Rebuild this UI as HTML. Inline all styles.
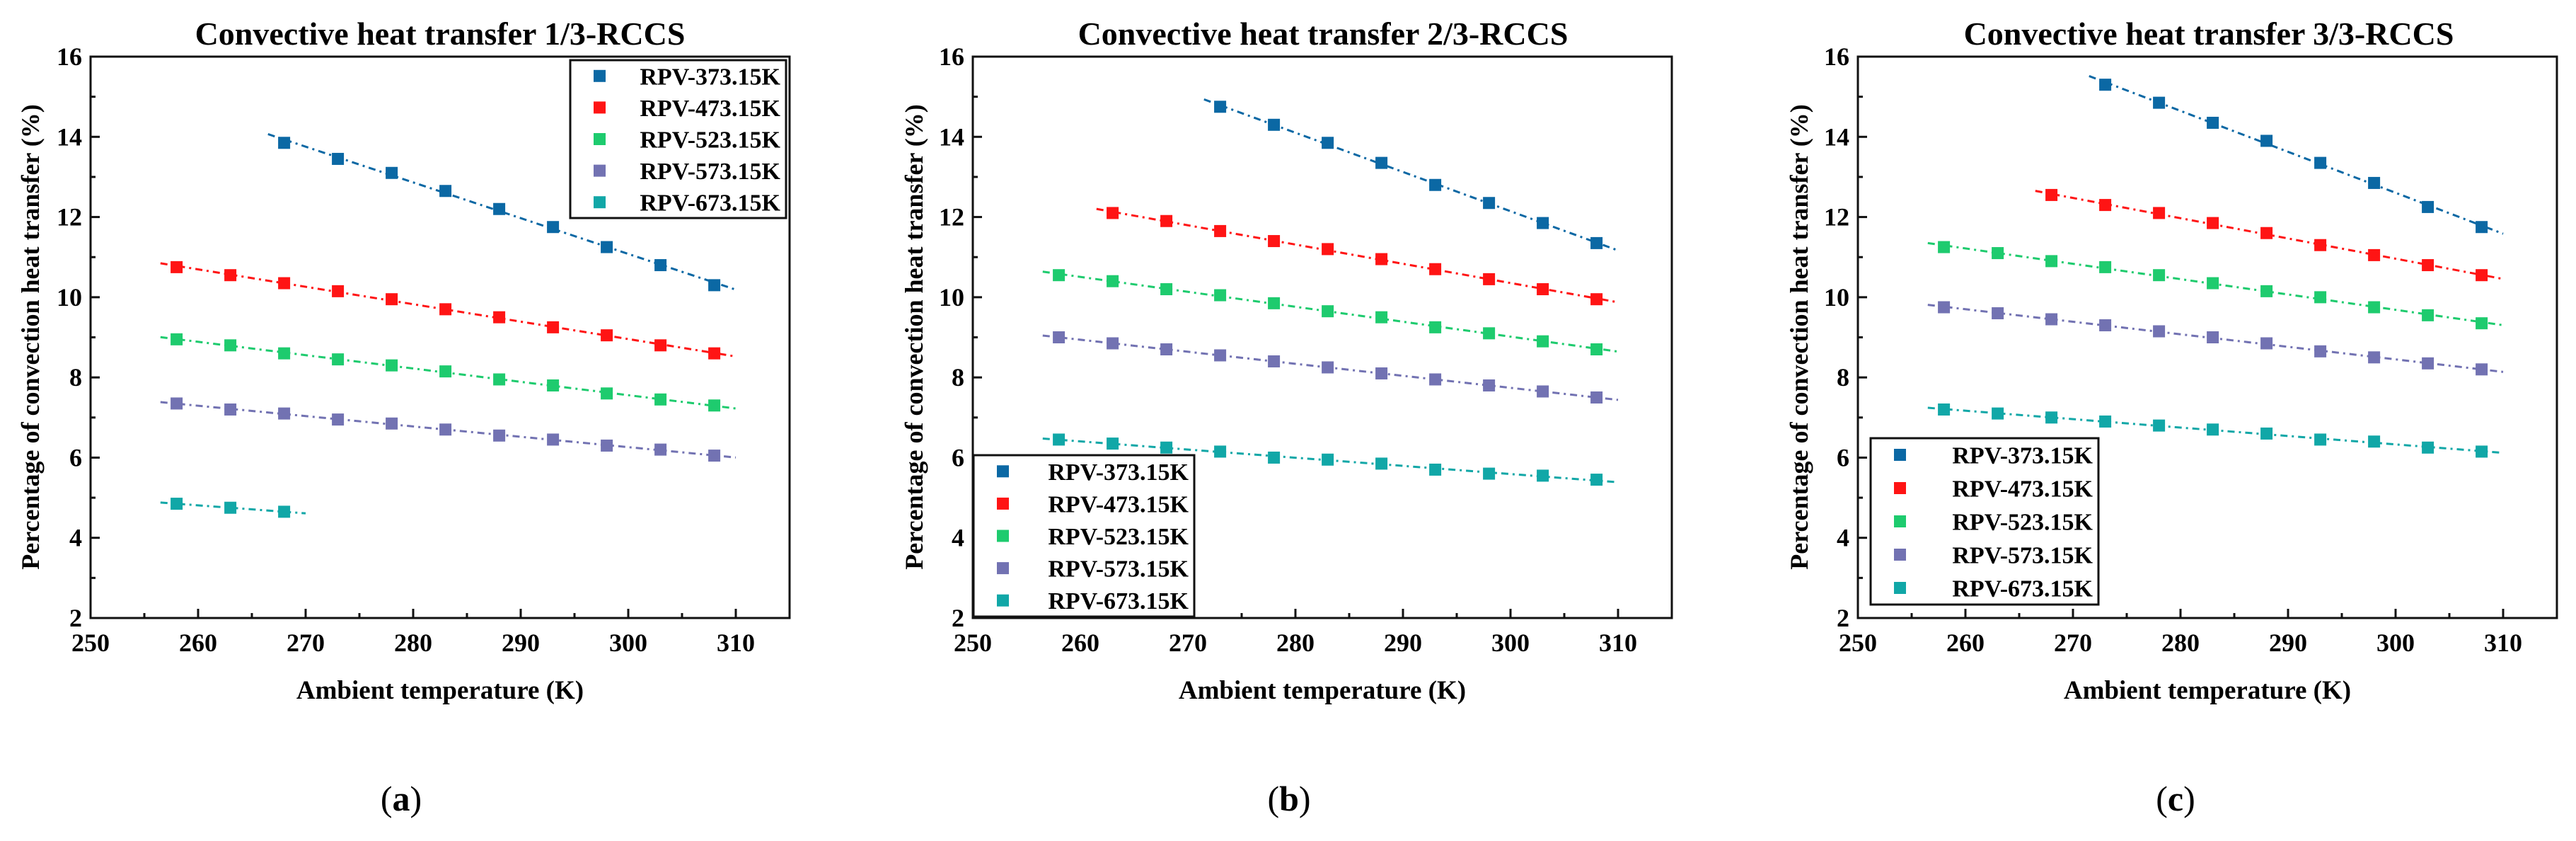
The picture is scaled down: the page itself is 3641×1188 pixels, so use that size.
<!DOCTYPE html>
<html><head><meta charset="utf-8"><style>
html,body{margin:0;padding:0;background:#fff;}
svg{display:block;}
svg text{font-family:"Liberation Serif","DejaVu Serif","Times New Roman",serif;font-weight:bold;}
</style></head><body>
<svg id="fig" width="3641" height="1188" viewBox="0 0 3641 1188" xmlns="http://www.w3.org/2000/svg" font-family="Liberation Serif, serif"></svg>
<script>
const xTicks = [250,260,270,280,290,300,310];
const yTicks = [2,4,6,8,10,12,14,16];
const seriesNames = ["RPV-373.15K","RPV-473.15K","RPV-523.15K","RPV-573.15K","RPV-673.15K"];
const seriesColors = ["#0b68a4","#ff1414","#1ecb6e","#7272b2","#11a7a7"];
const panelTitles = ["Convective heat transfer 1/3-RCCS","Convective heat transfer 2/3-RCCS","Convective heat transfer 3/3-RCCS"];
const panelLetters = ["a","b","c"];
const startA = [268,258,258,258,258];
const startB = [273,263,258,258,258];
const startC = [273,268,258,258,258];
const a373 = [13.85,13.45,13.1,12.65,12.2,11.75,11.25,10.8,10.3];
const a473 = [10.75,10.55,10.35,10.15,9.95,9.7,9.5,9.25,9.05,8.8,8.6];
const a523 = [8.95,8.8,8.6,8.45,8.3,8.15,7.95,7.8,7.6,7.45,7.3];
const a573 = [7.35,7.2,7.1,6.95,6.85,6.7,6.55,6.45,6.3,6.2,6.05];
const a673 = [4.85,4.75,4.65];
const b373 = [14.75,14.3,13.85,13.35,12.8,12.35,11.85,11.35];
const b473 = [12.1,11.9,11.65,11.4,11.2,10.95,10.7,10.45,10.2,9.95];
const b523 = [10.55,10.4,10.2,10.05,9.85,9.65,9.5,9.25,9.1,8.9,8.7];
const b573 = [9.0,8.85,8.7,8.55,8.4,8.25,8.1,7.95,7.8,7.65,7.5];
const b673 = [6.45,6.35,6.25,6.15,6.0,5.95,5.85,5.7,5.6,5.55,5.45];
const c373 = [15.3,14.85,14.35,13.9,13.35,12.85,12.25,11.75];
const c473 = [12.55,12.3,12.1,11.85,11.6,11.3,11.05,10.8,10.55];
const c523 = [11.25,11.1,10.9,10.75,10.55,10.35,10.15,10.0,9.75,9.55,9.35];
const c573 = [9.75,9.6,9.45,9.3,9.15,9.0,8.85,8.65,8.5,8.35,8.2];
const c673 = [7.2,7.1,7.0,6.9,6.8,6.7,6.6,6.45,6.4,6.25,6.15];

const NS = "http://www.w3.org/2000/svg";
const FONT = '"Liberation Serif","DejaVu Serif",serif';
const svg = document.getElementById("fig");
function mk(tag, attrs, parent){
  const e = document.createElementNS(NS, tag);
  for (const k in attrs) e.setAttribute(k, attrs[k]);
  if (tag === "text") { e.style.fontFamily = FONT; if (!attrs["font-weight"]) e.style.fontWeight = "bold"; }
  (parent||svg).appendChild(e);
  return e;
}
const panels = [
  {left:128, unit:15.2, data:[a373,a473,a523,a573,a673], starts:startA, title:622, letter:567, ylab:43,
   legend:{x:806,y:85,w:305,h:223}},
  {left:1375, unit:15.2, data:[b373,b473,b523,b573,b673], starts:startB, title:1870, letter:1822, ylab:1292,
   legend:{x:1376,y:643,w:312,h:228}},
  {left:2626, unit:15.2, data:[c373,c473,c523,c573,c673], starts:startC, title:3122, letter:3075, ylab:2543,
   legend:{x:2644,y:619,w:322,h:235}}
];
const TOP = 80, BOT = 873;
panels.forEach((p, pi) => {
  const g = mk("g", {});
  
  
  const xs = v => p.left + (v - 250) * p.unit;
  const ys = v => BOT - (v - 2) * (BOT - TOP) / 14;
  const right = xs(315);
  const t = mk("text", {x:p.title, y:63, "text-anchor":"middle", "font-size":46}, g);
  t.textContent = panelTitles[pi];
  
  
  const fr = mk("rect", {x:p.left, y:TOP, width:right-p.left, height:BOT-TOP, fill:"none", stroke:"#111", "stroke-width":3}, g);
  
  
  xTicks.forEach(v => {
    const x = xs(v);
    const tk = mk("line", {x1:x, y1:BOT, x2:x, y2:BOT-13, stroke:"#111", "stroke-width":3}, g);
    
    
    const lb = mk("text", {x:x, y:920, "text-anchor":"middle", "font-size":36}, g);
    lb.textContent = v;
    
    
    if (v < 310) {
      const mn = mk("line", {x1:xs(v+5), y1:BOT, x2:xs(v+5), y2:BOT-7, stroke:"#111", "stroke-width":3}, g);
      
      
    }
  });
  yTicks.forEach(v => {
    const y = ys(v);
    const tk = mk("line", {x1:p.left, y1:y, x2:p.left+13, y2:y, stroke:"#111", "stroke-width":3}, g);
    
    
    const lb = mk("text", {x:p.left-12, y:y+12, "text-anchor":"end", "font-size":36}, g);
    lb.textContent = v;
    
    
    if (v < 16) {
      const mn = mk("line", {x1:p.left, y1:ys(v+1), x2:p.left+7, y2:ys(v+1), stroke:"#111", "stroke-width":3}, g);
      
      
    }
  });
  const xt = mk("text", {x:(p.left+right)/2, y:987, "text-anchor":"middle", "font-size":37}, g);
  xt.textContent = "Ambient temperature (K)";
  
  
  const yt = mk("text", {x:0, y:0, "text-anchor":"middle", "font-size":36,
    transform:"translate(" + (p.ylab+12) + ",476) rotate(-90)"}, g);
  yt.textContent = "Percentage of convection heat transfer (%)";
  
  
  const lt = mk("text", {x:p.letter, y:1145, "text-anchor":"middle", "font-size":50, "font-weight":"normal"}, g);
  lt.style.fontWeight = "normal";
  lt.innerHTML = '(<tspan style="font-weight:bold">' + panelLetters[pi] + '</tspan>)';
  
  
  p.data.forEach((vals, si) => {
    const sg = mk("g", {}, g);
    
    
    const x0 = p.starts[si];
    const xv = vals.map((_, i) => x0 + 5 * i);
    const n = vals.length;
    const mx = xv.reduce((a,b)=>a+b,0)/n, my = vals.reduce((a,b)=>a+b,0)/n;
    let sxy=0, sxx=0;
    for (let i=0;i<n;i++){ sxy += (xv[i]-mx)*(vals[i]-my); sxx += (xv[i]-mx)*(xv[i]-mx); }
    const k = sxx ? sxy/sxx : 0;
    const xa = x0 - 1.5, xb = xv[n-1] + 2;
    const ln = mk("line", {x1:xs(xa), y1:ys(my + k*(xa-mx)), x2:xs(xb), y2:ys(my + k*(xb-mx)),
      stroke:seriesColors[si], "stroke-width":3, "stroke-dasharray":"10 6 3 6"}, sg);
    
    
    vals.forEach((v, i) => {
      const r = mk("rect", {x:xs(xv[i])-8.5, y:ys(v)-8.5, width:17, height:17, fill:seriesColors[si]}, sg);
      
      
    });
  });
  const L = p.legend;
  const lg = mk("g", {}, g);
  
  
  mk("rect", {x:L.x, y:L.y, width:L.w, height:L.h, fill:"#fff", stroke:"#111", "stroke-width":3}, lg);
  const step = L.h / 5;
  seriesNames.forEach((nm, si) => {
    const cy = L.y + step * (si + 0.5);
    const e = mk("g", {}, lg);
    
    
    mk("rect", {x:L.x+33, y:cy-8.5, width:17, height:17, fill:seriesColors[si]}, e);
    const tx = mk("text", {x:L.x+L.w-8, y:cy+12, "text-anchor":"end", "font-size":34}, e);
    tx.textContent = nm;
  });
});
</script>
</body></html>
